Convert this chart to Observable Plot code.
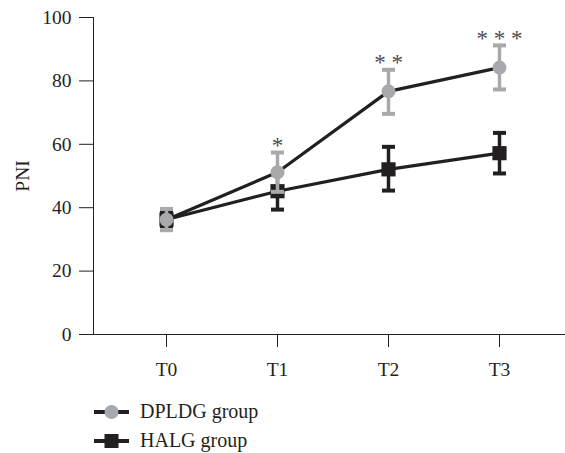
<!DOCTYPE html>
<html>
<head>
<meta charset="utf-8">
<script src="https://cdn.jsdelivr.net/npm/d3@7"></script>
<script src="https://cdn.jsdelivr.net/npm/@observablehq/plot@0.6"></script>
<style>
  body { margin: 0; background: #fff; }
  #legend { font-family: "Liberation Serif", serif; font-size: 20px; color: #231f20; padding-top: 2px; }
  .row { display: flex; align-items: center; height: 29px; }
  .row svg { margin-left: 94px; margin-right: 11px; }
</style>
</head>
<body>
<div id="chart"></div>
<div id="legend"></div>
<script>
const times = ["T0", "T1", "T2", "T3"];
const groups = ["DPLDG group", "HALG group"];
const dpldgMean = [36.2, 51.2, 76.7, 84.2];
const dpldgLow  = [32.9, 45.0, 69.6, 77.3];
const dpldgHigh = [39.6, 57.4, 83.5, 91.2];
const halgMean  = [36.3, 45.2, 52.1, 57.2];
const halgLow   = [34.2, 39.4, 45.4, 50.8];
const halgHigh  = [38.4, 51.0, 59.2, 63.6];
const stars     = ["", "*", "* *", "* * *"];
const yTicks    = [0, 20, 40, 60, 80, 100];

const ink = "#231f20";
const gray = "#a7a9ac";

const dpldg = times.map((t, i) => ({t, m: dpldgMean[i], lo: dpldgLow[i], hi: dpldgHigh[i], star: stars[i]}));
const halg = times.map((t, i) => ({t, m: halgMean[i], lo: halgLow[i], hi: halgHigh[i]}));

const cap = {draw(ctx, size) { const w = Math.sqrt(size / Math.PI); ctx.moveTo(-w, 0); ctx.lineTo(w, 0); }};

const chart = Plot.plot({
  width: 565,
  height: 395,
  marginLeft: 93,
  marginRight: 0,
  marginTop: 17,
  marginBottom: 61,
  style: {fontFamily: "Liberation Serif, serif", fontSize: "19.5px", color: ink, background: "#fff"},
  x: {type: "point", domain: times, padding: 0.626, align: 0.525, label: null, tickSize: 13, tickPadding: 15, line: true},
  y: {domain: [0, 100], ticks: yTicks, tickSize: 14, tickPadding: 8, line: true, label: "PNI", labelArrow: "none", labelAnchor: "center", labelOffset: 78},
  marks: [
    Plot.line(halg, {x: "t", y: "m", stroke: ink, strokeWidth: 3.2}),
    Plot.ruleX(halg, {x: "t", y1: "lo", y2: "hi", stroke: ink, strokeWidth: 3.5}),
    Plot.dot(halg, {x: "t", y: "lo", symbol: cap, r: 6.5, stroke: ink, strokeWidth: 4}),
    Plot.dot(halg, {x: "t", y: "hi", symbol: cap, r: 6.5, stroke: ink, strokeWidth: 4}),
    Plot.dot(halg, {x: "t", y: "m", symbol: "square", r: 8, fill: ink}),
    Plot.line(dpldg, {x: "t", y: "m", stroke: ink, strokeWidth: 3.2}),
    Plot.ruleX(dpldg, {x: "t", y1: "lo", y2: "hi", stroke: gray, strokeWidth: 3.5}),
    Plot.dot(dpldg, {x: "t", y: "lo", symbol: cap, r: 6.5, stroke: gray, strokeWidth: 4}),
    Plot.dot(dpldg, {x: "t", y: "hi", symbol: cap, r: 6.5, stroke: gray, strokeWidth: 4}),
    Plot.dot(dpldg, {x: "t", y: "m", r: 7, fill: gray}),
    Plot.text(dpldg, {x: "t", y: "hi", text: "star", dy: -7, fill: "#4d4d4f", fontSize: 23})
  ]
});
document.getElementById("chart").appendChild(chart);

const legend = document.getElementById("legend");
groups.forEach((g, i) => {
  const row = document.createElement("div");
  row.className = "row";
  const marker = i === 0
    ? `<circle cx="17.5" cy="10" r="7" fill="${gray}"/>`
    : `<rect x="10.5" y="3" width="14" height="14" fill="${ink}"/>`;
  row.innerHTML = `<svg width="35" height="20"><line x1="0" x2="35" y1="10" y2="10" stroke="${ink}" stroke-width="4"/>${marker}</svg><span>${g}</span>`;
  legend.appendChild(row);
});
</script>
</body>
</html>
